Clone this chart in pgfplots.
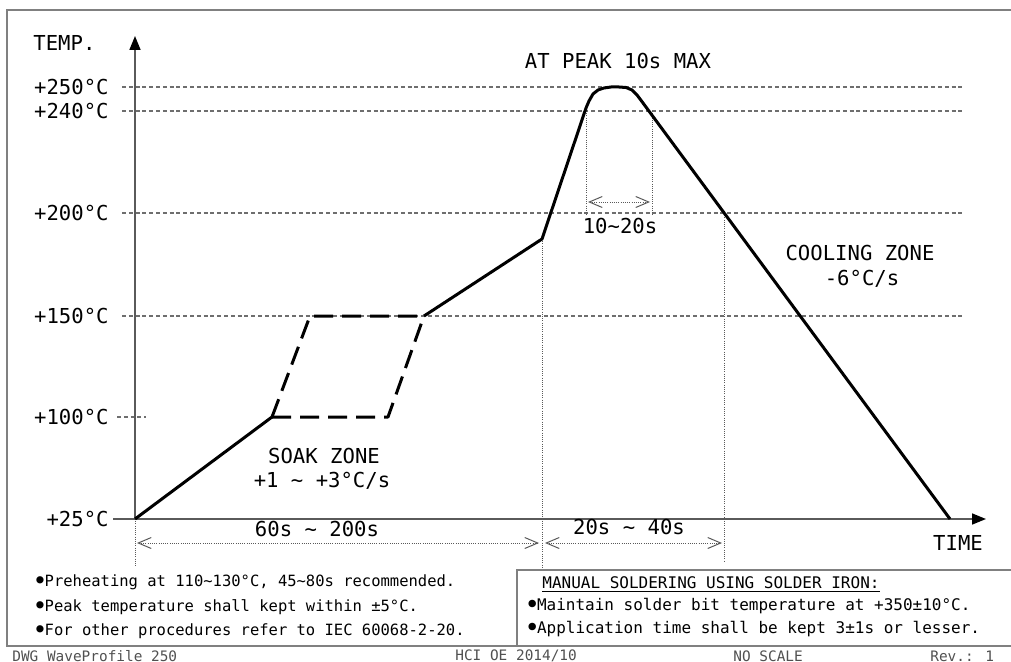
\documentclass[border=0pt]{standalone}
\usepackage{fontspec}
\setmainfont{DejaVu Sans Mono}
\usepackage{pgfplots}
\pgfplotsset{compat=1.18}
\usetikzlibrary{arrows.meta}
\newcommand{\tl}{\char"7E\relax}
\newcommand{\bul}{\makebox[0.602em][c]{\raisebox{-0.2em}{\scalebox{1.6}{•}}}}
\definecolor{gridc}{HTML}{6E6E6E}
\definecolor{axc}{HTML}{5A5A5A}
\definecolor{framec}{HTML}{808080}
\definecolor{footc}{HTML}{505050}
\tikzset{
  grid line/.style={gridc, line width=0.7bp, dash pattern=on 2bp off 1.4bp},
  dotv/.style={axc, line width=0.5bp, dash pattern=on 0.5bp off 0.6bp},
  dim/.style={axc, line width=0.5bp, dash pattern=on 0.5bp off 0.6bp,
     {Straight Barb[length=6.5bp,width=5.5bp,line width=0.5bp,sep=0pt]}-{Straight Barb[length=6.5bp,width=5.5bp,line width=0.5bp,sep=0pt]}},
  prof/.style={black, line width=1.5bp, line join=round},
  lab/.style={font=\fontsize{10.3bp}{12bp}\selectfont, inner sep=0pt},
  note/.style={font=\fontsize{7.75bp}{9bp}\selectfont, inner sep=0pt, anchor=west},
  man/.style={font=\fontsize{8bp}{9bp}\selectfont, inner sep=0pt, anchor=west},
  foot/.style={font=\fontsize{7.2bp}{9bp}\selectfont, inner sep=0pt, anchor=west, text=footc},
}
\begin{document}
\begin{tikzpicture}
\begin{axis}[scale only axis, width=505.5bp, height=331bp,
  xmin=0, xmax=1011, ymin=0, ymax=662, y dir=reverse,
  hide axis, clip=false,
  every axis plot/.append style={line cap=butt},
]
% frame
\addplot[framec, line width=0.6bp] coordinates {(1014,10)(7,10)(7,646)(1014,646)};
% manual box
\addplot[framec, line width=0.6bp] coordinates {(1014,570)(517,570)(517,646)};
% grid lines
\addplot[grid line] coordinates {(122,87)(963,87)};
\addplot[grid line] coordinates {(122,111)(963,111)};
\addplot[grid line] coordinates {(122,213)(963,213)};
\addplot[grid line] coordinates {(122,316)(963,316)};
\addplot[grid line] coordinates {(117,417)(146,417)};
% dotted verticals
\addplot[dotv] coordinates {(135,519)(135,567)};
\addplot[dotv] coordinates {(542,239)(542,567)};
\addplot[dotv] coordinates {(724,213)(724,562)};
\addplot[dotv] coordinates {(586,111)(586,215)};
\addplot[dotv] coordinates {(652,111)(652,215)};
% axes
\addplot[axc, line width=0.8bp, -{Triangle[length=7bp,width=5.5bp,color=black]}] coordinates {(135,519)(135,36)};
\addplot[axc, line width=0.8bp, -{Triangle[length=7bp,width=5.5bp,color=black]}] coordinates {(113,519)(986,519)};
% dimension arrows
\addplot[dim] coordinates {(137,543)(539,543)};
\addplot[dim] coordinates {(545,543)(722,543)};
\addplot[dim] coordinates {(588,202)(650,202)};
% profile
\addplot[prof] coordinates {(135,519)(272,417)};
\addplot[prof, dash pattern=on 9.5bp off 4.5bp] coordinates {(272,417)(388,417)(424,316)};
\addplot[prof, dash pattern=on 9.5bp off 4.5bp] coordinates {(272,417)(310,316)(424,316)};
\addplot[prof] coordinates {(424,316)(542,239)(586,108)(589,101)(593,94)(598,90)(604,88)(611,87)(619,87)(626,87.5)(632,90)(637,95)(643,103)(950,519)};
% labels
\node[lab, anchor=west] at (axis cs:33,43) {TEMP.};
\node[lab, anchor=east] at (axis cs:109,87) {+250°C};
\node[lab, anchor=east] at (axis cs:109,111) {+240°C};
\node[lab, anchor=east] at (axis cs:109,213) {+200°C};
\node[lab, anchor=east] at (axis cs:109,316) {+150°C};
\node[lab, anchor=east] at (axis cs:109,417) {+100°C};
\node[lab, anchor=east] at (axis cs:109,519) {+25°C};
\node[lab] at (axis cs:618,61) {AT PEAK 10s MAX};
\node[lab] at (axis cs:620,226) {10\tl20s};
\node[lab] at (axis cs:860,253) {COOLING ZONE};
\node[lab] at (axis cs:862,279) {-6°C/s};
\node[lab] at (axis cs:324,456) {SOAK ZONE};
\node[lab] at (axis cs:322,481) {+1 \tl{} +3°C/s};
\node[lab] at (axis cs:317,529) {60s \tl{} 200s};
\node[lab] at (axis cs:629,527) {20s \tl{} 40s};
\node[lab] at (axis cs:958,543) {TIME};
% notes
\node[note] at (axis cs:35,582) {\bul Preheating at 110\tl130°C, 45\tl80s recommended.};
\node[note] at (axis cs:35,607) {\bul Peak temperature shall kept within ±5°C.};
\node[note] at (axis cs:35,631) {\bul For other procedures refer to IEC 60068-2-20.};
\node[man] at (axis cs:542,585) {\underline{MANUAL SOLDERING USING SOLDER IRON:}};
\node[man] at (axis cs:527,606) {\bul Maintain solder bit temperature at +350±10°C.};
\node[man] at (axis cs:527,629) {\bul Application time shall be kept 3±1s or lesser.};
% footer
\node[foot] at (axis cs:12,656) {DWG WaveProfile 250};
\node[foot] at (axis cs:455,656) {HCI OE 2014/10};
\node[foot] at (axis cs:733,656) {NO SCALE};
\node[foot] at (axis cs:930,656) {Rev.: 1};
\coordinate (bl) at (axis cs:0,662);
\coordinate (tr) at (axis cs:1011,0);
\end{axis}
\pgfresetboundingbox
\useasboundingbox (bl) rectangle (tr);
\end{tikzpicture}
\end{document}
